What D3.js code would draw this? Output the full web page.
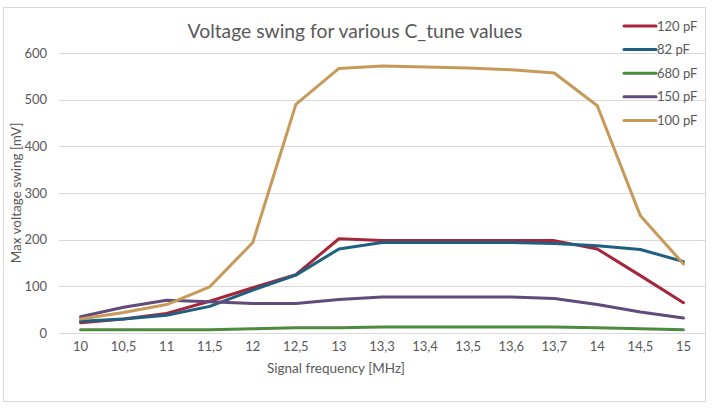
<!DOCTYPE html>
<html><head><meta charset="utf-8">
<script src="https://cdn.jsdelivr.net/npm/d3@7"></script>
<style>
body{margin:0;background:#fff;}
text{font-family:Lato,"Open Sans",sans-serif;fill:#595959;}
</style></head>
<body><svg id="chart" width="715" height="410"></svg>
<script>
const categories = ["10","10,5","11","11,5","12","12,5","13","13,3","13,4","13,5","13,6","13,7","14","14,5","15"];
const seriesNames = ["120 pF","82 pF","680 pF","150 pF","100 pF"];
const pf120 = [22,30,42,68,97,125,202,198,198,198,198,198,180,123,65];
const pf82  = [25,30,38,57,92,124,180,194,194,194,194,192,187,179,153];
const pf680 = [7,7,7,7,9,11,11,13,13,13,13,13,11,9,7];
const pf150 = [35,55,70,67,63,63,72,77,77,77,77,74,61,45,32];
const pf100 = [30,44,61,99,194,490,567,572,570,568,564,557,487,251,148];
const yTicks = [0,100,200,300,400,500,600];
const colors = ["#A5263A","#1F5F80","#4E8A40","#614B7C","#C89A5A"];

const series = [pf120,pf82,pf680,pf150,pf100];
const svg = d3.select("#chart");

svg.append("rect").attr("x",3.5).attr("y",7.5).attr("width",702).attr("height",394)
  .attr("fill","#fff").attr("stroke","#d9d9d9");

const x = d3.scaleBand().domain(categories).range([59,705]);
const y = d3.scaleLinear().domain([0,600]).range([333,53]);

// gridlines
svg.append("g").selectAll("line").data(yTicks).join("line")
  .attr("x1",59).attr("x2",705)
  .attr("y1",d=>Math.round(y(d))+0.5).attr("y2",d=>Math.round(y(d))+0.5)
  .attr("stroke","#d9d9d9").attr("stroke-width",1);

// y axis labels
const yAxis = d3.axisLeft(y).tickValues(yTicks).tickSize(0).tickPadding(12);
const gy = svg.append("g").attr("transform","translate(59,0)").call(yAxis);
gy.select(".domain").remove();
gy.selectAll("text").attr("font-size","13px").attr("fill","#595959").style("font-family","Lato");

// x axis labels
const xAxis = d3.axisBottom(x).tickSize(0).tickPadding(9);
const gx = svg.append("g").attr("transform","translate(0,333)").call(xAxis);
gx.select(".domain").remove();
gx.selectAll("text").attr("font-size","13px").attr("fill","#595959").style("font-family","Lato");

// lines
const line = d3.line().x((d,i)=>x(categories[i])+x.bandwidth()/2).y(d=>y(d));
svg.append("g").selectAll("path").data(series).join("path")
  .attr("d",d=>line(d)).attr("fill","none")
  .attr("stroke",(d,i)=>colors[i]).attr("stroke-width",3)
  .attr("stroke-linejoin","round").attr("stroke-linecap","round");

// title
svg.append("text").attr("x",355).attr("y",38).attr("text-anchor","middle")
  .attr("font-size","19.3px").text("Voltage swing for various C_tune values");

// axis titles
svg.append("text").attr("x",336).attr("y",373).attr("text-anchor","middle")
  .attr("font-size","13.5px").text("Signal frequency [MHz]");
svg.append("text").attr("transform","translate(21,193) rotate(-90)").attr("text-anchor","middle")
  .attr("font-size","13.5px").text("Max voltage swing [mV]");

// legend
const lg = svg.append("g").selectAll("g").data(seriesNames).join("g")
  .attr("transform",(d,i)=>`translate(624,${26+i*23.6})`);
lg.append("line").attr("x1",0).attr("x2",32).attr("y1",0).attr("y2",0)
  .attr("stroke",(d,i)=>colors[i]).attr("stroke-width",3).attr("stroke-linecap","round");
lg.append("text").attr("x",33).attr("y",4.5).attr("font-size","13px").text(d=>d);
</script></body></html>
